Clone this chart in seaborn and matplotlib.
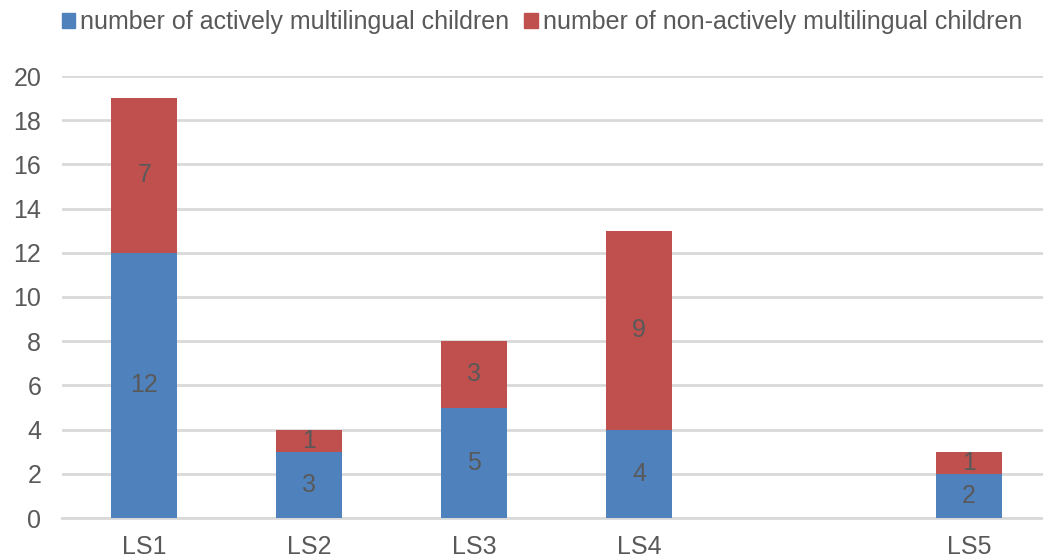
import matplotlib
matplotlib.use("Agg")
import matplotlib.pyplot as plt
import pandas as pd
import seaborn as sns

# Chart data
categories = ["LS1", "LS2", "LS3", "LS4", "", "LS5"]
groups = ["LS1", "LS2", "LS3", "LS4", "LS5"]
active = [12, 3, 5, 4, 2]
non_active = [7, 1, 3, 9, 1]
series_names = ["number of actively multilingual children",
                "number of non-actively multilingual children"]

BLUE = "#4F81BD"
RED = "#C0504D"
TEXT = "#595959"
GRID = "#D9D9D9"
FS = 18

sns.set_theme(style="white")
plt.rcParams["font.family"] = ["Liberation Sans", "DejaVu Sans"]

df = pd.DataFrame({
    "group": groups,
    "active": active,
    "non_active": non_active,
})
df["total"] = df["active"] + df["non_active"]

fig = plt.figure(figsize=(10.43, 5.58), dpi=100)
ax = fig.add_axes([62 / 1043, 40 / 558, 1 - 62 / 1043, 442 / 558])

# Stacked bars: totals in red, actively multilingual overlaid in blue
sns.barplot(data=df, x="group", y="total", order=categories, color=RED,
            width=0.4, saturation=1, linewidth=0, ax=ax, zorder=3)
sns.barplot(data=df, x="group", y="active", order=categories, color=BLUE,
            width=0.4, saturation=1, linewidth=0, ax=ax, zorder=3)

# Segment labels
pos = {c: i for i, c in enumerate(categories)}
for g, a, n in zip(groups, active, non_active):
    x = pos[g]
    ax.text(x, a / 2, str(a), ha="center", va="center", fontsize=FS,
            color=TEXT, zorder=4)
    ax.text(x, a + n / 2, str(n), ha="center", va="center", fontsize=FS,
            color=TEXT, zorder=4)

ax.set_ylim(0, 20)
ax.set_xlim(-0.5, 5.45)
ax.set_yticks(range(0, 21, 2))
ax.yaxis.grid(True, color=GRID, linewidth=2, zorder=0)
ax.set_axisbelow(True)
for s in ["top", "right", "left"]:
    ax.spines[s].set_visible(False)
ax.spines["bottom"].set_color(GRID)
ax.spines["bottom"].set_linewidth(2)
ax.spines["bottom"].set_zorder(2)
ax.tick_params(axis="both", length=0, labelsize=FS, labelcolor=TEXT)
ax.tick_params(axis="y", pad=15)
ax.tick_params(axis="x", pad=12)
ax.set_xlabel("")
ax.set_ylabel("")

handles = [plt.Rectangle((0, 0), 1, 1, color=BLUE),
           plt.Rectangle((0, 0), 1, 1, color=RED)]
fig.legend(handles, series_names, loc="center", bbox_to_anchor=(542 / 1043, 1 - 22 / 558),
           ncol=2, frameon=False, fontsize=FS, labelcolor=TEXT,
           handlelength=0.55, handleheight=0.55, handletextpad=0.2, columnspacing=0.6)

fig.savefig("out.png", dpi=100)
